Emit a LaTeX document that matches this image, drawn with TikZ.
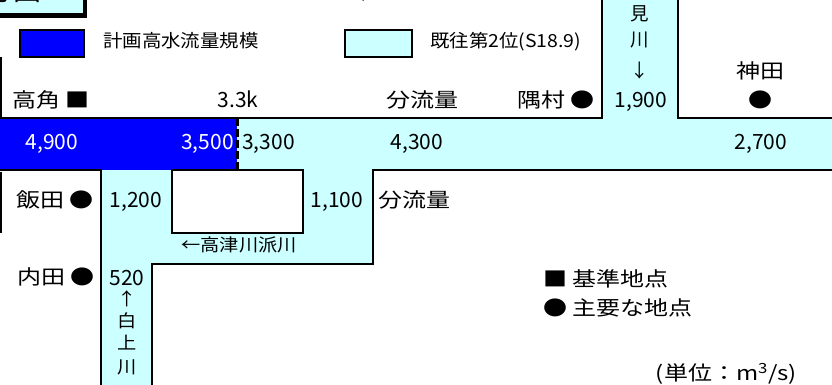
\documentclass[tikz,border=0pt]{standalone}
\usepackage{fontspec}
\setmainfont{Noto Sans CJK JP}
\newfontfamily\wfont[FakeStretch=1.2]{Noto Sans CJK JP}
\newfontfamily\lfont[FakeStretch=1.08]{Noto Sans CJK JP}
\newfontfamily\mfont[FakeStretch=1.1]{Noto Sans CJK JP}
\definecolor{lcyan}{RGB}{204,255,255}
\definecolor{pblue}{RGB}{0,0,255}
\begin{document}
\begin{tikzpicture}[x=1pt,y=-1pt,
  txt/.style={inner sep=0pt, text height=.88em, text depth=.12em, font=\wfont\fontsize{20}{24}\selectfont},
  num/.style={inner sep=0pt, text height=.88em, text depth=.12em, font=\fontsize{21}{24}\selectfont},
  stxt/.style={inner sep=0pt, text height=.88em, text depth=.12em, font=\lfont\fontsize{18}{22}\selectfont},
  vtxt/.style={inner sep=0pt, text height=.88em, text depth=.12em, font=\fontsize{18.5}{22}\selectfont},
  btxt/.style={inner sep=0pt, text height=.88em, text depth=.12em, font=\mfont\fontsize{17.5}{22}\selectfont},
  bank/.style={line width=2.4pt, line cap=rect},
  frame/.style={line width=2.6pt}]
\useasboundingbox (0,0) rectangle (832,385);
\clip (0,0) rectangle (832,385);
% title box (cut off at the top edge, as in the reference)
\draw[fill=lcyan, line width=1.2pt] (-10,-30) rectangle (84,14);
\draw[line width=3.5pt] (85.5,-30) -- (85.5,16) -- (-10,16);
\node[anchor=east, inner sep=0pt, font=\fontsize{28}{32}\selectfont] (ttl) at (42,-10) {流量配分図};
\node[txt, anchor=west] (rain) at (153,-6) {計画降雨量 358mm/2日};
% legend
\draw[fill=pblue, line width=2pt] (20,30) rectangle (84,57);
\node[stxt, anchor=west] (lg1) at (103,44) {計画高水流量規模};
\draw[fill=lcyan, line width=2pt] (345,30) rectangle (412,57);
\node[stxt, anchor=west] (lg2) at (430,44) {既往第2位(S18.9)};
% water areas
\fill[pblue] (0,118) rectangle (237,170);
\fill[lcyan] (237,118) rectangle (840,170);
\fill[lcyan] (602,-5) rectangle (678,118);
\fill[lcyan] (101,170) -- (373,170) -- (373,264) -- (152,264) -- (152,390) -- (101,390) -- cycle;
\fill[white] (172,170) rectangle (303,233);
% banks
\draw[bank] (0,118) -- (602,118) -- (602,-5);
\draw[bank] (678,-5) -- (678,118) -- (840,118);
\draw[bank] (0,170) -- (101,170) -- (101,390);
\draw[bank] (172,170) -- (172,233) -- (303,233) -- (303,170) -- cycle;
\draw[bank] (840,170) -- (373,170) -- (373,264) -- (152,264) -- (152,390);
\draw[frame] (1,57) -- (1,118);
\draw[frame] (1,172) -- (1,233);
\draw[line width=3pt, dash pattern=on 8pt off 3pt] (237,118) -- (237,170);
% labels above main channel
\node[txt, anchor=west] (takatsuno) at (12,104) {高角 ■};
\node[num] (k33) at (238,104) {3.3k};
\node[txt, anchor=west] (bunryu1) at (386,104) {分流量};
\node[txt, anchor=west] (sumimura) at (517,104) {隅村 ●};
\node[vtxt] (mi) at (640,17) {見};
\node[vtxt] (kawa1) at (640,43) {川};
\node[vtxt] (darr) at (640,74) {↓};
\node[num] (q1900) at (641,104) {1,900};
\node[txt] (kanda) at (760,75) {神田};
\node[txt] (kandapt) at (760,104) {●};
% flows in main channel
\node[num, text=white] (q4900) at (52,146) {4,900};
\node[num, text=white, anchor=east] (q3500) at (234,146) {3,500};
\node[num, anchor=west] (q3300) at (242,146) {3,300};
\node[num] (q4300) at (417,146) {4,300};
\node[num] (q2700) at (761,146) {2,700};
% below
\node[txt, anchor=west] (iida) at (16,204) {飯田 ●};
\node[num] (q1200) at (136,204) {1,200};
\node[num] (q1100) at (337,204) {1,100};
\node[txt, anchor=west] (bunryu2) at (378,204) {分流量};
\node[btxt] (hasen) at (239,248) {←高津川派川};
\node[txt, anchor=west] (uchida) at (17,281) {内田 ●};
\node[num] (q520) at (127,282) {520};
\node[btxt] (uarr) at (127,302) {↑};
\node[btxt] (shira) at (127,324) {白};
\node[btxt] (kami) at (127,346) {上};
\node[btxt] (kawa2) at (127,370) {川};
% key
\node[txt, anchor=west] (key1) at (543,283) {■ 基準地点};
\node[txt, anchor=west] (key2) at (543,312) {● 主要な地点};
\node[txt, anchor=east] (unit) at (797,377) {(単位：m\textsuperscript{3}/s)};
\end{tikzpicture}
\end{document}
